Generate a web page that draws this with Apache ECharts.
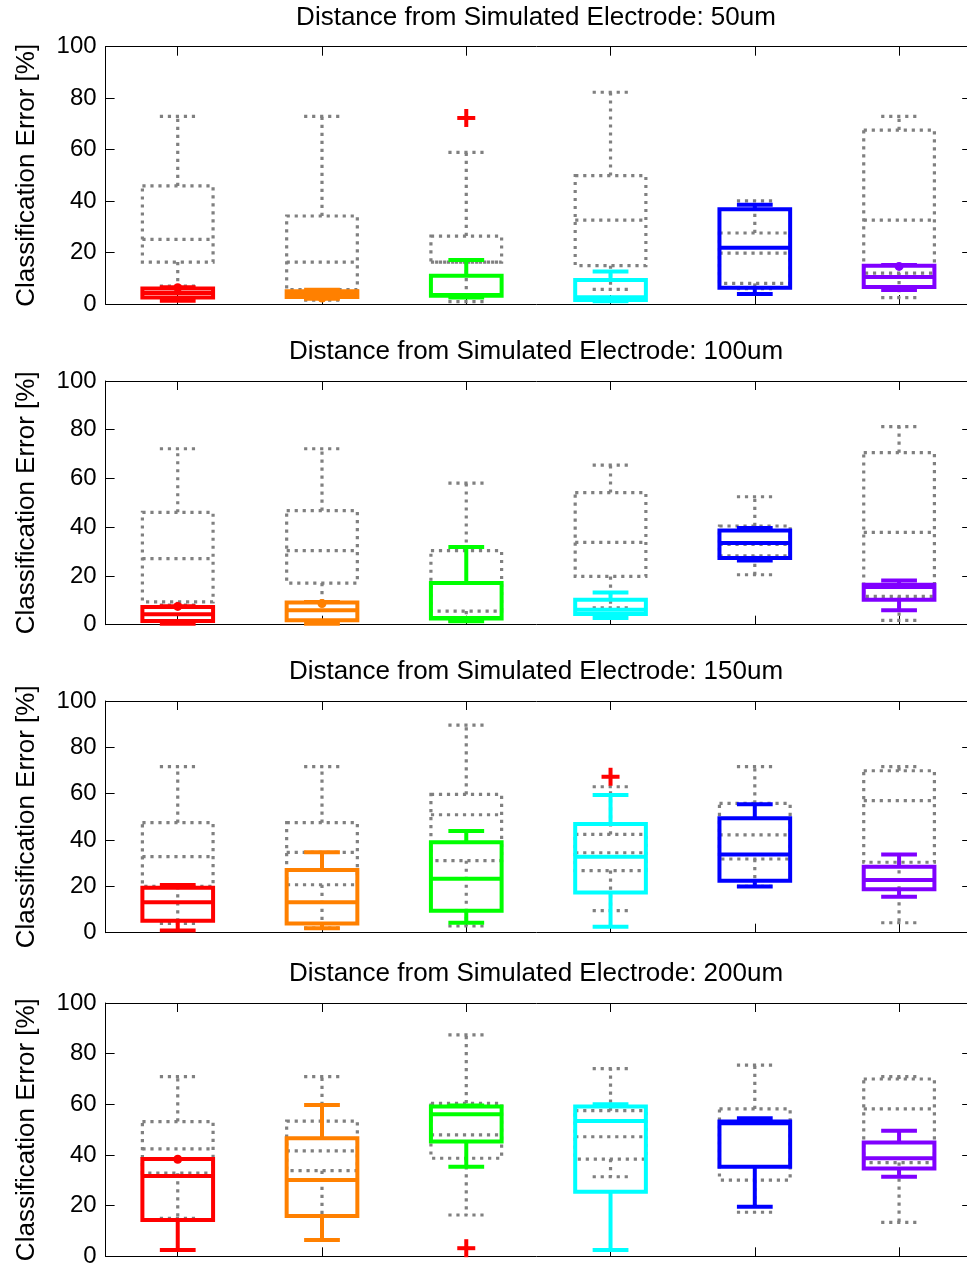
<!DOCTYPE html>
<html>
<head>
<meta charset="utf-8">
<script src="https://cdn.jsdelivr.net/npm/echarts@6/dist/echarts.min.js"></script>
<style>
  html, body { margin: 0; padding: 0; background: #fff; }
  #chart { width: 967px; height: 1266px; }
</style>
</head>
<body>
<div id="chart"></div>
<script>
// categories (no labels shown on the x axis)
const categories = ['1', '2', '3', '4', '5', '6'];
const boxColors = ['#ff0000', '#ff8000', '#00ff00', '#00ffff', '#0000ff', '#8000ff'];
const distances = ['50um', '100um', '150um', '200um'];

// each row: [min, q1, median, q3, max]
const gray50 = [
  [7.0, 16.3, 25.1, 45.9, 72.9],
  [1.5, 5.6, 16.3, 34.2, 72.9],
  [0.9, 16.3, 16.3, 26.4, 58.9],
  [5.7, 14.9, 32.6, 49.9, 82.3],
  [6.0, 8.0, 19.8, 27.6, 40.1],
  [2.5, 12.0, 32.6, 67.6, 72.9]
];
const color50 = [
  [1.3, 2.5, 4.3, 6.0, 6.5],
  [2.0, 2.7, 4.0, 5.0, 5.5],
  [2.5, 3.2, 3.5, 11.0, 17.1],
  [1.1, 1.6, 2.6, 9.3, 12.6],
  [3.9, 6.3, 21.9, 36.8, 38.6],
  [5.4, 6.6, 10.5, 14.9, 15.2]
];
const dots50 = [[0, 6.3], [1, 2.3], [5, 14.6]];
const outliers50 = [[2, 72.3]];

const gray100 = [
  [8.0, 9.4, 27.1, 46.1, 72.2],
  [9.5, 17.1, 30.4, 46.8, 72.2],
  [1.5, 5.6, 17.0, 30.4, 58.1],
  [6.9, 19.8, 33.8, 54.2, 65.5],
  [20.5, 28.3, 33.0, 40.5, 52.5],
  [1.8, 11.6, 37.9, 70.6, 81.3]
];
const color100 = [
  [0.4, 1.5, 4.3, 7.3, 7.6],
  [0.4, 1.8, 5.9, 9.1, 9.3],
  [1.4, 2.5, 2.7, 17.1, 31.9],
  [2.7, 4.4, 6.1, 10.2, 13.2],
  [26.3, 27.4, 33.5, 38.7, 39.7],
  [5.9, 10.2, 15.5, 16.4, 18.1]
];
const dots100 = [[0, 7.5], [1, 8.7]];
const outliers100 = [];

const gray150 = [
  [4.0, 20.0, 32.8, 47.5, 71.7],
  [2.0, 20.7, 34.7, 47.5, 71.7],
  [2.9, 31.1, 50.9, 59.7, 89.6],
  [9.5, 26.8, 34.5, 42.4, 63.0],
  [20.0, 31.8, 42.2, 55.8, 71.7],
  [4.3, 30.4, 57.0, 69.9, 71.7]
];
const color150 = [
  [0.9, 5.2, 13.1, 19.4, 20.6],
  [1.9, 4.0, 13.1, 27.1, 34.7],
  [4.3, 9.5, 23.3, 39.0, 43.9],
  [2.6, 17.4, 32.8, 46.9, 59.4],
  [19.9, 22.4, 33.8, 49.4, 55.4],
  [15.5, 18.8, 22.7, 28.5, 33.8]
];
const dots150 = [];
const outliers150 = [[3, 67.3]];

const gray200 = [
  [15.0, 32.8, 42.4, 53.2, 70.9],
  [16.0, 33.8, 41.6, 53.4, 70.9],
  [16.3, 38.7, 47.9, 60.4, 87.4],
  [31.4, 38.4, 47.2, 57.5, 74.1],
  [17.4, 30.1, 53.0, 58.2, 75.5],
  [13.4, 37.0, 58.2, 70.0, 70.9]
];
const color200 = [
  [2.5, 14.3, 31.7, 38.4, 38.4],
  [6.4, 15.9, 30.1, 46.6, 59.7],
  [35.4, 45.3, 56.1, 59.1, 59.5],
  [2.5, 25.5, 53.4, 59.1, 60.0],
  [19.6, 35.4, 52.5, 53.2, 54.5],
  [31.4, 34.7, 38.7, 44.9, 49.6]
];
const dots200 = [[0, 38.3]];
const outliers200 = [[2, 3.2]];

const grayStats = [gray50, gray100, gray150, gray200];
const colorStats = [color50, color100, color150, color200];
const dotData = [dots50, dots100, dots150, dots200];
const outlierData = [outliers50, outliers100, outliers150, outliers200];

// layout of the four panels
const panelTop = [46.7, 381, 701, 1003];
const panelHeight = [257.3, 243.7, 231.7, 253.3];
const titleMid = [18, 352, 672, 974];
const font = 'Liberation Sans, Arial, sans-serif';

function boxRenderer(dashed) {
  return function (params, api) {
    const i = api.value(0);
    const pt = (k) => api.coord([i, api.value(k)]);
    const band = api.size([1, 0])[0];
    const x = pt(1)[0];
    const hw = band * 0.245;
    const cw = band * 0.124;
    const yMin = pt(1)[1], yQ1 = pt(2)[1], yMed = pt(3)[1], yQ3 = pt(4)[1], yMax = pt(5)[1];
    const style = dashed
      ? { stroke: '#808080', lineWidth: 3.2, lineDash: [3.2, 4.8], fill: 'none' }
      : { stroke: boxColors[i], lineWidth: 4, fill: 'none' };
    const line = (x1, y1, x2, y2) => ({ type: 'line', shape: { x1, y1, x2, y2 }, style: style });
    return {
      type: 'group',
      children: [
        { type: 'rect', shape: { x: x - hw, y: yQ3, width: 2 * hw, height: yQ1 - yQ3 }, style: style },
        line(x - hw, yMed, x + hw, yMed),
        line(x, yQ3, x, yMax),
        line(x, yQ1, x, yMin),
        line(x - cw, yMax, x + cw, yMax),
        line(x - cw, yMin, x + cw, yMin)
      ]
    };
  };
}

function plusRenderer(params, api) {
  const c = api.coord([api.value(0), api.value(1)]);
  const s = 9;
  const style = { stroke: '#ff0000', lineWidth: 4 };
  return {
    type: 'group',
    children: [
      { type: 'line', shape: { x1: c[0] - s, y1: c[1], x2: c[0] + s, y2: c[1] }, style: style },
      { type: 'line', shape: { x1: c[0], y1: c[1] - s, x2: c[0], y2: c[1] + s }, style: style }
    ]
  };
}

const grids = [], xAxes = [], yAxes = [], titles = [], series = [];

distances.forEach((d, p) => {
  grids.push({
    left: 105.6, width: 865.6, top: panelTop[p], height: panelHeight[p],
    containLabel: false, outerBoundsMode: 'none'
  });
  titles.push({
    text: 'Distance from Simulated Electrode: ' + d,
    left: 536, top: titleMid[p] - 13, textAlign: 'center', padding: 0,
    textStyle: { fontSize: 26, fontWeight: 'normal', color: '#000', fontFamily: font, lineHeight: 26 }
  });
  ['bottom', 'top'].forEach((pos) => {
    xAxes.push({
      type: 'category', gridIndex: p, position: pos, data: categories, boundaryGap: true,
      axisLine: { show: true, onZero: false, lineStyle: { color: '#000', width: 1 } },
      axisTick: { show: true, inside: true, alignWithLabel: true, length: 9, lineStyle: { color: '#000' } },
      axisLabel: { show: false },
      splitLine: { show: false }
    });
  });
  ['left', 'right'].forEach((pos) => {
    yAxes.push({
      type: 'value', gridIndex: p, position: pos, min: 0, max: 100, interval: 20,
      name: pos === 'left' ? 'Classification Error [%]' : '',
      nameLocation: 'middle', nameGap: 66,
      nameTextStyle: { fontSize: 26, color: '#000', fontFamily: font },
      axisLine: { show: true, onZero: false, lineStyle: { color: '#000', width: 1 } },
      axisTick: { show: true, inside: true, length: 9, lineStyle: { color: '#000' } },
      axisLabel: { show: pos === 'left', fontSize: 24, color: '#000', fontFamily: font, margin: 9 },
      splitLine: { show: false }
    });
  });

  const toRows = (stats) => stats.map((s, i) => [i].concat(s));
  series.push({
    type: 'custom', xAxisIndex: 2 * p, yAxisIndex: 2 * p,
    renderItem: boxRenderer(true), data: toRows(grayStats[p]),
    encode: { x: 0, y: [1, 2, 3, 4, 5] }, z: 2
  });
  series.push({
    type: 'custom', xAxisIndex: 2 * p, yAxisIndex: 2 * p,
    renderItem: boxRenderer(false), data: toRows(colorStats[p]),
    encode: { x: 0, y: [1, 2, 3, 4, 5] }, z: 3
  });
  series.push({
    type: 'scatter', xAxisIndex: 2 * p, yAxisIndex: 2 * p,
    data: dotData[p], symbol: 'circle', symbolSize: 9, z: 4,
    itemStyle: { color: (prm) => boxColors[prm.value[0]], opacity: 1 }
  });
  series.push({
    type: 'custom', xAxisIndex: 2 * p, yAxisIndex: 2 * p,
    renderItem: plusRenderer, data: outlierData[p],
    encode: { x: 0, y: 1 }, z: 5
  });
});

const chart = echarts.init(document.getElementById('chart'));
chart.setOption({
  animation: false,
  backgroundColor: '#fff',
  title: titles,
  grid: grids,
  xAxis: xAxes,
  yAxis: yAxes,
  series: series
});
</script>
</body>
</html>
